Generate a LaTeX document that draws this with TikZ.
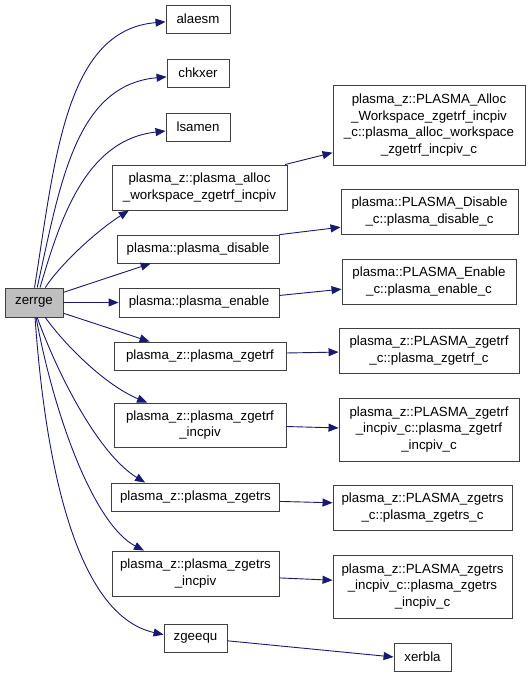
\documentclass[tikz,border=0pt]{standalone}
\usepackage{fontspec}
\setmainfont{Liberation Sans}
\usetikzlibrary{arrows.meta}
\definecolor{edgeblue}{RGB}{25,25,112}
\definecolor{boxline}{RGB}{64,64,64}
\definecolor{rootfill}{RGB}{191,191,191}
\tikzset{
  fn/.style={draw=boxline, line width=0.9pt, fill=white, inner sep=0pt, align=center,
    font=\fontsize{13.3}{16.7}\selectfont},
  root/.style={fn, fill=rootfill},
  call/.style={draw=edgeblue, line width=0.9pt, -{Triangle[length=10pt,width=8pt]}}
}
\begin{document}
\begin{tikzpicture}[x=1pt,y=-1pt]
\useasboundingbox (0,0) rectangle (531,677);
% level 0
\node[root, minimum width=58, minimum height=29] (zerrge) at (34,302.5) {zerrge};
% level 1
\node[fn, minimum width=64, minimum height=28] (alaesm) at (198,19) {alaesm};
\node[fn, minimum width=62, minimum height=28] (chkxer) at (198,73) {chkxer};
\node[fn, minimum width=64, minimum height=28] (lsamen) at (198,127) {lsamen};
\node[fn, minimum width=175, minimum height=45] (alloc) at (199.5,187.5) {plasma\_z::plasma\_alloc\\\_workspace\_zgetrf\_incpiv};
\node[fn, minimum width=162, minimum height=28] (disable) at (198,249) {plasma::plasma\_disable};
\node[fn, minimum width=160, minimum height=29] (enable) at (199,302.5) {plasma::plasma\_enable};
\node[fn, minimum width=172, minimum height=28] (zgetrf) at (200,356) {plasma\_z::plasma\_zgetrf};
\node[fn, minimum width=172, minimum height=44] (zgetrfi) at (200,425) {plasma\_z::plasma\_zgetrf\\\_incpiv};
\node[fn, minimum width=168, minimum height=28] (zgetrs) at (195.5,497) {plasma\_z::plasma\_zgetrs};
\node[fn, minimum width=167, minimum height=45] (zgetrsi) at (195.5,573.5) {plasma\_z::plasma\_zgetrs\\\_incpiv};
\node[fn, minimum width=63, minimum height=28] (zgeequ) at (195.5,638) {zgeequ};
% level 2
\node[fn, minimum width=192, minimum height=80] (allocc) at (429,125) {plasma\_z::PLASMA\_Alloc\\\_Workspace\_zgetrf\_incpiv\\\_c::plasma\_alloc\_workspace\\\_zgetrf\_incpiv\_c};
\node[fn, minimum width=177, minimum height=45] (disablec) at (429.5,211.5) {plasma::PLASMA\_Disable\\\_c::plasma\_disable\_c};
\node[fn, minimum width=174, minimum height=45] (enablec) at (429,281.5) {plasma::PLASMA\_Enable\\\_c::plasma\_enable\_c};
\node[fn, minimum width=180, minimum height=45] (zgetrfc) at (429,350.5) {plasma\_z::PLASMA\_zgetrf\\\_c::plasma\_zgetrf\_c};
\node[fn, minimum width=180, minimum height=63] (zgetrfic) at (429,429.5) {plasma\_z::PLASMA\_zgetrf\\\_incpiv\_c::plasma\_zgetrf\\\_incpiv\_c};
\node[fn, minimum width=179, minimum height=45] (zgetrsc) at (422.5,507.5) {plasma\_z::PLASMA\_zgetrs\\\_c::plasma\_zgetrs\_c};
\node[fn, minimum width=179, minimum height=63] (zgetrsic) at (422.5,586.5) {plasma\_z::PLASMA\_zgetrs\\\_incpiv\_c::plasma\_zgetrs\\\_incpiv\_c};
\node[fn, minimum width=57, minimum height=28] (xerbla) at (422.5,657) {xerbla};
% edges from zerrge
\draw[call] (zerrge.88) .. controls (55,160) and (65,30) .. (alaesm.185);
\draw[call] (zerrge.78) .. controls (60,185) and (75,85) .. (chkxer.187);
\draw[call] (zerrge.68) .. controls (60,220) and (85,140) .. (lsamen.187);
\draw[call] (zerrge.53) .. controls (60,265) and (95,232) .. (alloc.198);
\draw[call] (zerrge.19) -- (disable.197);
\draw[call] (zerrge.east) -- (enable.west);
\draw[call] (zerrge.-20) -- (zgetrf.164);
\draw[call] (zerrge.-53) .. controls (65,345) and (105,385) .. (zgetrfi.157);
\draw[call] (zerrge.-78) .. controls (60,380) and (100,455) .. (zgetrs.164);
\draw[call] (zerrge.-82) .. controls (55,420) and (95,525) .. (zgetrsi.156);
\draw[call] (zerrge.-86) .. controls (45,460) and (75,615) .. (zgeequ.174);
% second level edges
\draw[call] (alloc.15) -- (allocc.196);
\draw[call] (disable.10) -- (disablec.190);
\draw[call] (enable.5) -- (enablec.185);
\draw[call] (zgetrf.2) -- (zgetrfc.181);
\draw[call] (zgetrfi.-1) -- (zgetrfic.179);
\draw[call] (zgetrs.-3) -- (zgetrsc.177);
\draw[call] (zgetrsi.-3) -- (zgetrsic.176);
\draw[call] (zgeequ.-5) -- (xerbla.west);
\end{tikzpicture}
\end{document}
